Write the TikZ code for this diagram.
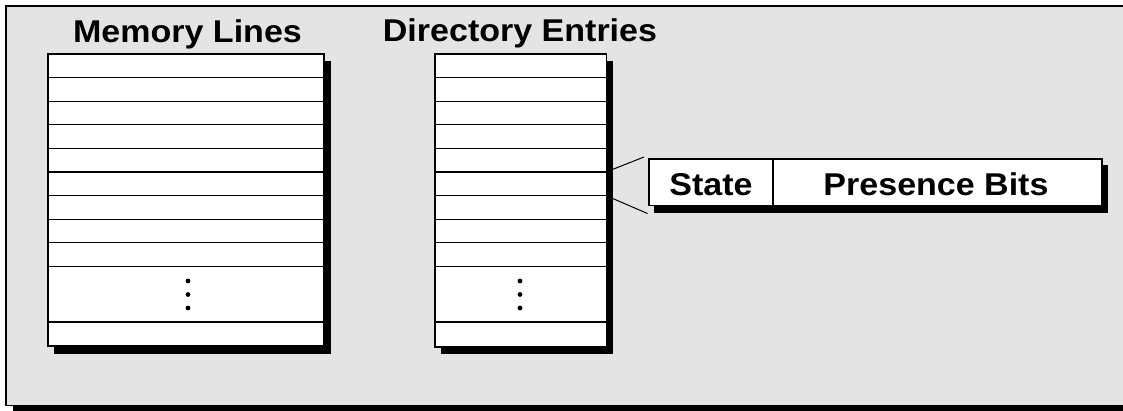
\documentclass[tikz,border=0pt]{standalone}
\usepackage{fontspec}
\newfontfamily\hv[FakeStretch=1.08]{Liberation Sans}
\definecolor{panel}{RGB}{228,228,228}
\begin{document}
\begin{tikzpicture}[x=1pt,y=-1pt,line width=1.1pt,
  title/.style={font=\hv\bfseries\fontsize{31.5}{36}\selectfont,anchor=base,inner sep=0pt},
  shadowfill/.style={fill=black,draw=none},
  cellbox/.style={fill=white,draw=black},
  rowline/.style={draw=black},
  dotmark/.style={fill=black},
  link/.style={draw=black,line width=1pt}]
\clip (0,0) rectangle (1123,410);
% panel with its drop shadow
\fill[shadowfill] (13,13) rectangle (1140,415);
\filldraw[fill=panel,draw=black] (6,6) rectangle (1135,405.5);

% titles
\node[title] (memtitle) at (187.5,42.5) {Memory Lines};
\node[title] (dirtitle) at (520,41.5) {Directory Entries};

% memory lines table
\fill[shadowfill] (54,61) rectangle (330.5,354);
\filldraw[cellbox] (48,54) rectangle (324,346);
\foreach \yy in {77.6,101.2,124.8,148.4,172,195.6,219.2,242.8,266.4,322}
  \draw[rowline] (48,\yy) -- (324,\yy);
\foreach \yy in {281,294.5,308}
  \fill[dotmark] (188,\yy) circle (2.4);

% connectors from one directory entry to its field layout
\coordinate (d1) at (606,172);
\coordinate (d2) at (606,195.6);
\coordinate (s1) at (644,157);
\coordinate (s2) at (647.5,213.5);
\draw[link] (d1) -- (s1);
\draw[link] (d2) -- (s2);

% directory entries table
\fill[shadowfill] (441,61) rectangle (612.7,354);
\filldraw[cellbox] (435,54) rectangle (606.5,347);
\foreach \yy in {77.6,101.2,124.8,148.4,172,195.6,219.2,242.8,266.4,322}
  \draw[rowline] (435,\yy) -- (606.5,\yy);
\foreach \yy in {281,294.5,308}
  \fill[dotmark] (520,\yy) circle (2.4);

% entry format: state and presence bits
\fill[shadowfill] (654,165) rectangle (1108,213);
\filldraw[cellbox] (649,159) rectangle (1102,205.7);
\draw[rowline] (773,159) -- (773,205.7);
\node[title] (state) at (711,195) {State};
\node[title] (bits) at (936,195) {Presence Bits};
\end{tikzpicture}
\end{document}
